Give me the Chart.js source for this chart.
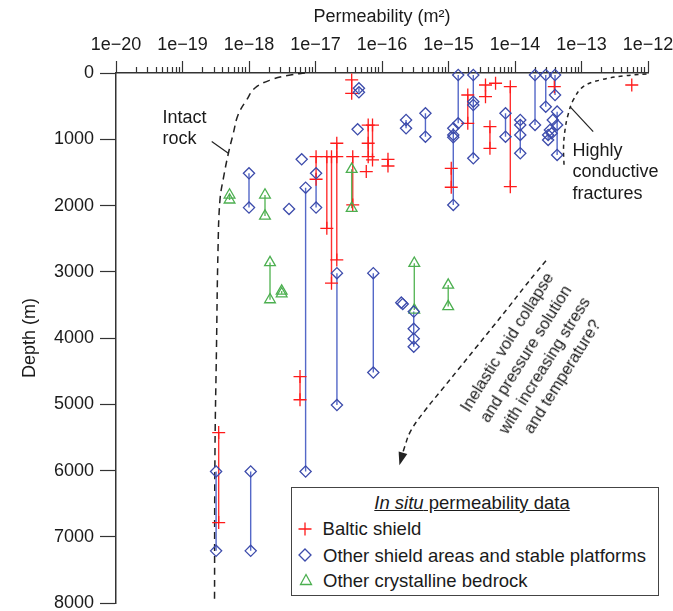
<!DOCTYPE html>
<html>
<head>
<meta charset="utf-8">
<script src="https://cdn.jsdelivr.net/npm/chart.js@4.4.1/dist/chart.umd.min.js"></script>
<style>
html,body{margin:0;padding:0;background:#fff;}
#wrap{position:relative;width:673px;height:611px;overflow:hidden;}
#c{position:absolute;left:0;top:0;}
.ann{position:absolute;font-family:"Liberation Sans",Arial,sans-serif;font-size:18px;line-height:21.3px;color:#1a1a1a;white-space:nowrap;}
#legend{position:absolute;left:291px;top:487px;width:368px;height:109px;border:1.3px solid #444;box-sizing:border-box;background:#fff;}
.lg{position:absolute;font-family:"Liberation Sans",Arial,sans-serif;font-size:18.5px;line-height:21.3px;color:#1a1a1a;white-space:nowrap;}
.mk{position:absolute;}
#rot{text-align:center;font-size:16.5px;line-height:21.8px;transform:rotate(-58deg);transform-origin:50% 50%;}
</style>
</head>
<body>
<div id="wrap">
<canvas id="c" width="673" height="611"></canvas>
<div class="ann" style="left:162.5px;top:107px;">Intact<br>rock</div>
<div class="ann" style="left:572.5px;top:140px;">Highly<br>conductive<br>fractures</div>
<div class="ann" id="rot" style="left:415px;top:315.5px;width:240px;height:87.2px;">Inelastic void collapse<br>and pressure solution<br>with increasing stress<br>and temperature?</div>
<div id="legend"></div>
<div class="lg" style="left:291px;width:362px;text-align:center;top:492px;"><span style="text-decoration:underline;"><i>In situ</i> permeability data</span></div>
<svg class="mk" style="left:297px;top:521px;" width="16" height="16"><path d="M8 1.5V14.5M1.5 8H14.5" stroke="#ff1a1a" stroke-width="1.3" fill="none"/></svg>
<div class="lg" style="left:322.6px;top:518px;">Baltic shield</div>
<svg class="mk" style="left:297px;top:547px;" width="16" height="16"><path d="M8 2L14 8L8 14L2 8Z" stroke="#3c4bab" stroke-width="1.3" fill="none"/></svg>
<div class="lg" style="left:323px;top:544.6px;">Other shield areas and stable platforms</div>
<svg class="mk" style="left:298px;top:572px;" width="16" height="16"><path d="M8 2.5L13.5 12.5L2.5 12.5Z" stroke="#4caf50" stroke-width="1.3" fill="none"/></svg>
<div class="lg" style="left:323px;top:569.6px;">Other crystalline bedrock</div>
</div>
<script>
// ---------- axis ticks ----------
const xMajor = [1e-20, 1e-19, 1e-18, 1e-17, 1e-16, 1e-15, 1e-14, 1e-13, 1e-12];
const xTickLabels = ['1e\u221220','1e\u221219','1e\u221218','1e\u221217','1e\u221216','1e\u221215','1e\u221214','1e\u221213','1e\u221212'];
const depthTicks = [0, 1000, 2000, 3000, 4000, 5000, 6000, 7000, 8000];

// ---------- Baltic shield (red +) : one permeability per measurement, depths joined by a line ----------
const balticPerm = [3.5e-19, 5.85e-18, 1.02e-17, 1.48e-17, 1.74e-17, 2.09e-17, 3.5e-17, 3.63e-17,
  6.2e-17, 7.2e-17, 5.8e-17, 1.23e-16, 1.1e-15, 1.95e-15, 3.6e-15, 5.1e-15, 4.2e-15, 8.5e-15, 3.9e-14, 5.7e-13];
const balticDepth = [[5425, 6783], [4580, 4930], [1262, 1603], [1262, 2343], [1262, 3172], [1060, 1262, 2820],
  [105, 306], [1262, 1990], [785, 1060, 1262], [785, 1312], [1488], [1302, 1403], [1438, 1724], [332, 759],
  [181, 357], [155], [810, 1136], [206, 1715], [206], [181]];

// ---------- Other shield areas and stable platforms (blue diamonds) ----------
const shieldPerm = [3.2e-19, 1.06e-18, 1.0e-18, 4.0e-18, 6.2e-18, 7.1e-18, 1.02e-17, 2.1e-17, 4.3e-17, 4.5e-17,
  7.4e-17, 1.95e-16, 2.05e-16, 2.3e-16, 3.0e-16, 4.5e-16, 1.18e-15, 1.4e-15, 2.36e-15, 7.2e-15, 1.2e-14,
  2.0e-14, 2.9e-14, 4.0e-14, 4.3e-14, 3.7e-14, 3.35e-14, 3.15e-14, 3.55e-14];
const shieldDepth = [[6013, 7210], [6013, 7210], [1513, 2031], [2051], [1302], [1730, 6013], [1513, 2031],
  [3020, 5010], [850], [231, 291], [3020, 4520], [3465], [3485], [709, 834], [3600, 3860, 4010, 4130],
  [608, 961], [834, 935, 970, 1991], [30, 759], [30, 433, 483, 1287], [608, 961], [709, 784, 935, 1211],
  [30, 784], [30, 508], [30, 332], [583, 784, 1237], [709], [860], [935, 1010], [910]];

// ---------- Other crystalline bedrock (green triangles) ----------
const crystPerm = [5.1e-19, 1.74e-18, 2.07e-18, 3.1e-18, 3.5e-17, 3.06e-16, 9.9e-16];
const crystDepth = [[1840, 1915], [1840, 2157], [2860, 3420], [3290, 3330], [1453, 2040], [2870, 3575], [3200, 3525]];

// ---------- guide curves (permeability, depth) ----------
const intactPerm = [6.95e-18, 4.17e-18, 2.09e-18, 1.23e-18, 9.2e-19, 6.84e-19, 5.81e-19, 4.9e-19, 4.21e-19, 3.66e-19, 3.42e-19, 3.24e-19, 3.08e-19, 3.03e-19];
const intactDepth = [0, 30, 106, 226, 407, 633, 910, 1211, 1538, 1915, 2670, 4178, 5686, 8000];
const conductPerm = [9.5e-13, 4.21e-13, 1.91e-13, 1.06e-13, 7.53e-14, 6.27e-14, 5.65e-14, 5.37e-14, 5.46e-14];
const conductDepth = [15, 45, 106, 207, 407, 633, 860, 1116, 1388];
const inelasticPerm = [2.92e-14, 2.07e-14, 1.36e-14, 8.13e-15, 4.67e-15, 2.59e-15, 1.44e-15, 7.98e-16, 4.43e-16, 2.73e-16, 2.2e-16, 1.88e-16];
const inelasticDepth = [2832, 3013, 3239, 3525, 3826, 4143, 4459, 4776, 5092, 5393, 5634, 5875];
const intactLeaderPerm = [2.75e-19, 4.89e-19];
const intactLeaderDepth = [1035, 1210];
const conductLeaderPerm = [6.71e-14, 1.5e-13];
const conductLeaderDepth = [508, 884];

const RED = '#ff1a1a', RED_LINE = '#ff3030';
const BLUE = '#3c4bab', BLUE_LINE = '#5468c8';
const GREEN = '#4caf50', GREEN_LINE = '#5cb85c';
const INK = '#222';

const datasets = [];
function pts(perm, depth) { return perm.map((k, i) => ({x: k, y: depth[i]})); }
function addSeries(perms, depths, color, lineColor, style, radius, label) {
  perms.forEach((k, i) => {
    const d = depths[i];
    if (d.length > 1) {
      datasets.push({type: 'scatter', label: '', data: d.map(z => ({x: k, y: z})), showLine: true,
        borderColor: lineColor, borderWidth: 1.4, pointRadius: 0, order: 5, clip: false});
    }
  });
  datasets.push({type: 'scatter', label: label,
    data: perms.flatMap((k, i) => depths[i].map(z => ({x: k, y: z}))),
    showLine: false, pointStyle: style, pointRadius: radius, pointBorderColor: color, borderColor: color,
    pointBackgroundColor: 'rgba(0,0,0,0)', backgroundColor: 'rgba(0,0,0,0)', pointBorderWidth: 1.3, order: 1, clip: false});
}
function addCurve(perm, depth, dash, width, id, tension) {
  datasets.push({type: 'scatter', id: id, label: '', data: pts(perm, depth), showLine: true, borderColor: INK,
    borderWidth: width, borderDash: dash, pointRadius: 0, tension: tension, order: 6, clip: false});
}
addCurve(intactPerm, intactDepth, [7, 5], 1.5, 'intact', 0.4);
addCurve(conductPerm, conductDepth, [4, 4], 1.5, 'conduct', 0.4);
addCurve(inelasticPerm, inelasticDepth, [5, 4], 1.5, 'inelastic', 0.4);
addCurve(intactLeaderPerm, intactLeaderDepth, [], 1.2, 'lead1', 0);
addCurve(conductLeaderPerm, conductLeaderDepth, [], 1.2, 'lead2', 0);
addSeries(shieldPerm, shieldDepth, BLUE, BLUE_LINE, 'rectRot', 5.6, 'Other shield areas and stable platforms');
addSeries(crystPerm, crystDepth, GREEN, GREEN_LINE, 'triangle', 6.2, 'Other crystalline bedrock');
addSeries(balticPerm, balticDepth, RED, RED_LINE, 'cross', 6.5, 'Baltic shield');

const arrowPlugin = {
  id: 'arrowHead',
  afterDatasetsDraw(chart) {
    const idx = chart.data.datasets.findIndex(d => d.id === 'inelastic');
    const p = chart.getDatasetMeta(idx).data;
    const a = p[p.length - 2], b = p[p.length - 1];
    const ang = Math.atan2(b.y - a.y, b.x - a.x);
    const c = chart.ctx, L = 10, W = 4.5;
    c.save();
    c.fillStyle = INK;
    c.beginPath();
    c.moveTo(b.x + Math.cos(ang) * 3, b.y + Math.sin(ang) * 3);
    c.lineTo(b.x - Math.cos(ang) * L + Math.sin(ang) * W, b.y - Math.sin(ang) * L - Math.cos(ang) * W);
    c.lineTo(b.x - Math.cos(ang) * L - Math.sin(ang) * W, b.y - Math.sin(ang) * L + Math.cos(ang) * W);
    c.closePath();
    c.fill();
    c.restore();
  }
};

Chart.defaults.font.family = '"Liberation Sans", Arial, sans-serif';
Chart.defaults.font.size = 18;
Chart.defaults.color = '#1a1a1a';

new Chart(document.getElementById('c'), {
  type: 'scatter',
  data: {datasets: datasets},
  plugins: [arrowPlugin],
  options: {
    responsive: false,
    animation: false,
    events: [],
    layout: {padding: {left: 0, top: 0, right: 25, bottom: 7}},
    plugins: {legend: {display: false}, tooltip: {enabled: false}},
    scales: {
      x: {
        type: 'logarithmic', position: 'top', min: xMajor[0], max: xMajor[xMajor.length - 1],
        afterBuildTicks(scale) {
          const t = [];
          xMajor.forEach((m, i) => {
            t.push({value: m, major: true});
            if (i < xMajor.length - 1) for (let s = 2; s <= 9; s++) t.push({value: m * s, major: false});
          });
          scale.ticks = t;
        },
        afterFit(scale) { scale.height = 73; scale.paddingLeft = 0; scale.paddingRight = 0; },
        ticks: {
          autoSkip: false, maxRotation: 0, minRotation: 0, padding: 5, color: '#1a1a1a',
          callback(value) {
            const i = xMajor.findIndex(m => Math.abs(value / m - 1) < 1e-6);
            return i >= 0 ? xTickLabels[i] : '';
          }
        },
        grid: {
          drawOnChartArea: false, drawTicks: true, tickLength: 12, tickColor: '#333',
          tickWidth: 1.2,
          tickBorderDash: (ctx) => (ctx.tick && ctx.tick.major) ? [] : [0, 6, 6, 100]
        },
        border: {display: true, color: '#333', width: 1.5},
        title: {display: true, text: 'Permeability (m\u00B2)', padding: {top: 6, bottom: 0}, color: '#1a1a1a'}
      },
      y: {
        type: 'linear', reverse: true, min: depthTicks[0], max: depthTicks[depthTicks.length - 1],
        afterBuildTicks(scale) { scale.ticks = depthTicks.map(v => ({value: v})); },
        afterFit(scale) { scale.width = 116; scale.paddingTop = 0; scale.paddingBottom = 0; },
        ticks: {padding: 6, color: '#1a1a1a', callback: (v) => String(v)},
        grid: {drawOnChartArea: false, drawTicks: true, tickLength: 16, tickColor: '#333', tickWidth: 1.2},
        border: {display: true, color: '#333', width: 1.5},
        title: {display: true, text: 'Depth (m)', padding: {top: 19, bottom: 0}, color: '#1a1a1a'}
      }
    }
  }
});
</script>
</body>
</html>
